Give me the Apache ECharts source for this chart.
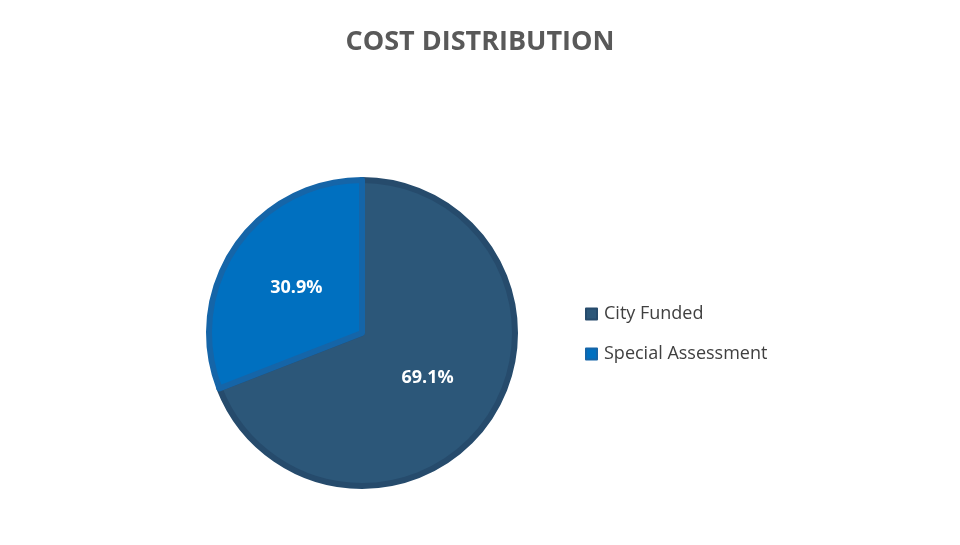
<!DOCTYPE html>
<html><head><meta charset="utf-8">
<script src="https://cdn.jsdelivr.net/npm/echarts@6/dist/echarts.min.js"></script>
<style>html,body{margin:0;padding:0;background:#fff}#c{width:960px;height:545px}</style>
</head><body><div id="c"></div>
<script>
const categories = ["City Funded", "Special Assessment"];
const values = [69.1, 30.9];
const colors = ["#2C5779", "#0070C0"];
const borders = ["#264B6C", "#1565A8"];
const chart = echarts.init(document.getElementById('c'));
chart.setOption({
  animation: false,
  title: {text: "COST DISTRIBUTION", left: "center", top: 24,
    textStyle: {fontFamily: "Open Sans", fontWeight: "bold", fontSize: 27, color: "#595959"}},
  legend: {orient: "vertical", left: 580, top: 300, itemWidth: 11, itemHeight: 11, itemGap: 22,
    icon: "rect", textStyle: {fontFamily: "Open Sans", fontSize: 18, color: "#404040", padding: [0,0,0,2]},
    data: categories},
  series: [{
    type: "pie", center: [362, 333], radius: 153, startAngle: 90, clockwise: true,
    label: {position: "inner", formatter: p => p.value.toFixed(1) + "%", color: "#fff",
      fontFamily: "Open Sans", fontWeight: "bold", fontSize: 18},
    labelLine: {show: false},
    data: categories.map((c, i) => ({name: c, value: values[i],
      itemStyle: {color: colors[i], borderColor: borders[i], borderWidth: 6}})),
    emphasis: {disabled: true}
  }]
});
</script></body></html>
